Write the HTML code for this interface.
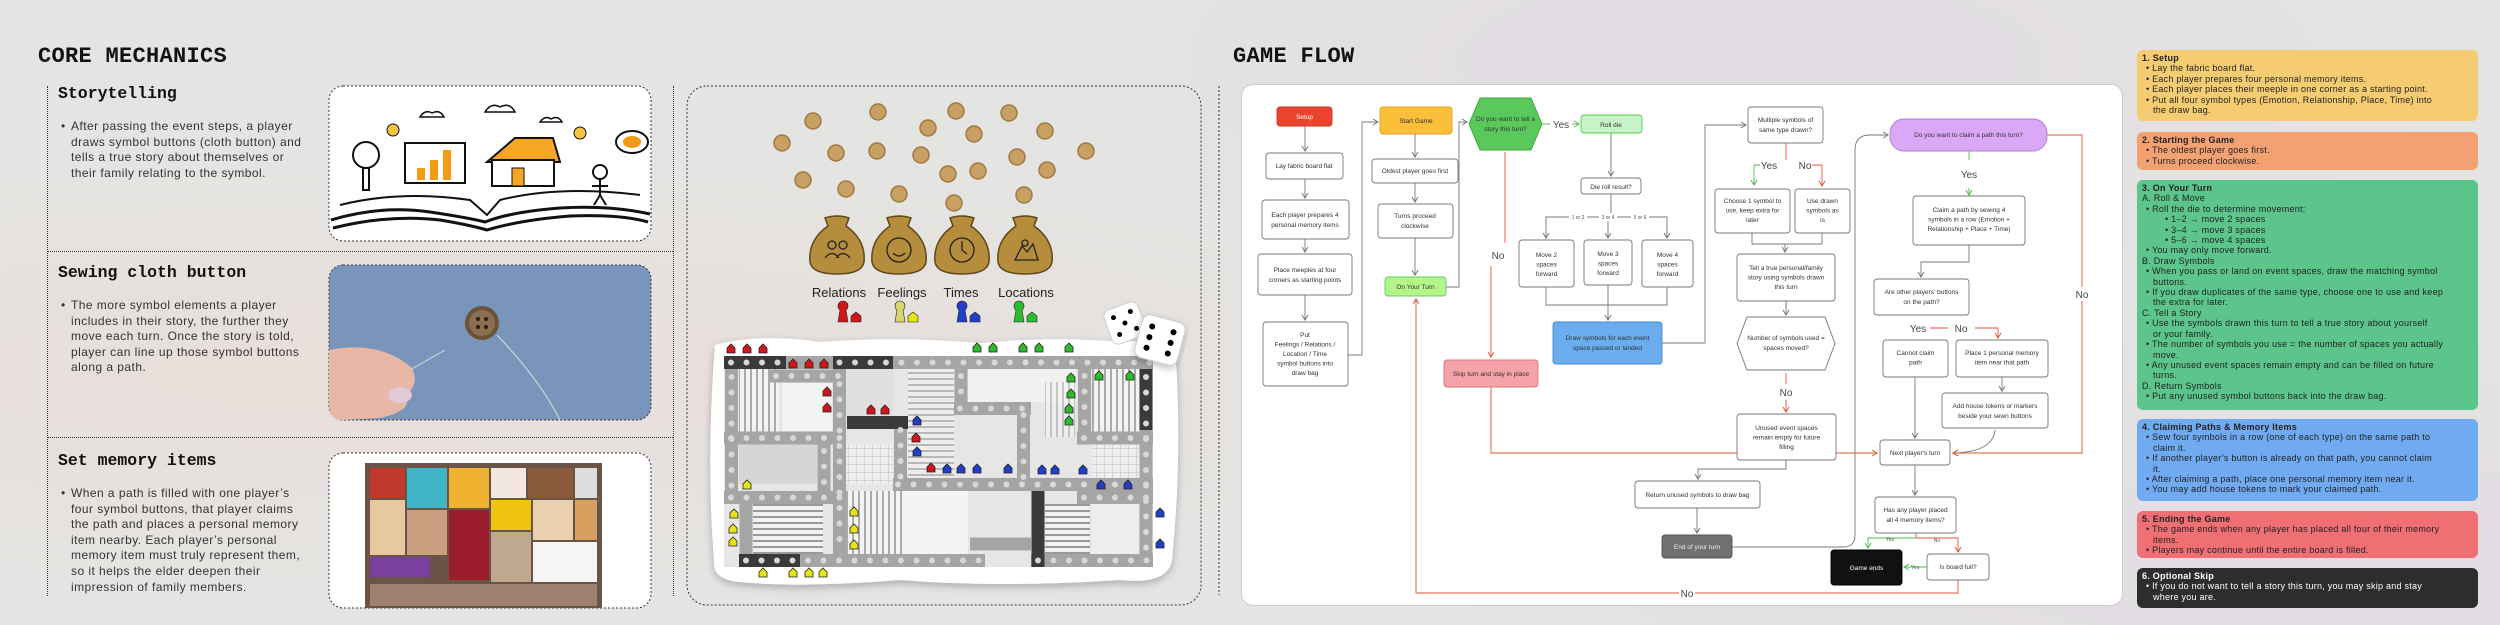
<!DOCTYPE html>
<html><head><meta charset="utf-8">
<style>
*{margin:0;padding:0;box-sizing:border-box}
body{width:2500px;height:625px;overflow:hidden;background:#e4e4e2;position:relative;font-family:"Liberation Sans",sans-serif}
.abs{position:absolute}
.title{font-family:"Liberation Mono",monospace;font-weight:bold;font-size:22px;color:#111;letter-spacing:0.3px}
.h{font-family:"Liberation Mono",monospace;font-weight:bold;font-size:16.5px;color:#111}
.bt{font-size:12px;line-height:15.6px;color:#333;letter-spacing:0.45px;white-space:nowrap}
.bt .b{position:absolute;left:-10px}
.rb{position:absolute;left:2137px;width:341px;border-radius:6px;padding:3px 5px;font-size:9px;line-height:10.4px;color:#222;letter-spacing:0.25px;white-space:nowrap}
.rb b{font-weight:bold}
.l1{padding-left:11px;text-indent:-7px}
.l2{padding-left:30px;text-indent:-7px}
</style></head><body>
<!-- background blotches -->
<div class="abs" style="left:0;top:0;width:2500px;height:625px;background:radial-gradient(ellipse at 15% 60%,rgba(240,210,200,0.35),transparent 40%),radial-gradient(ellipse at 70% 10%,rgba(220,200,230,0.3),transparent 30%),radial-gradient(ellipse at 95% 90%,rgba(220,200,230,0.3),transparent 30%)"></div>

<!-- LEFT PANEL -->
<div class="abs title" style="left:38px;top:44px">CORE MECHANICS</div>
<div class="abs" style="left:47px;top:86px;height:510px;border-left:1.5px dotted #333"></div>
<div class="abs" style="left:673px;top:86px;height:510px;border-left:1.5px dotted #333"></div>
<div class="abs" style="left:47px;top:251px;width:626px;border-top:1.5px dotted #333"></div>
<div class="abs" style="left:47px;top:437px;width:626px;border-top:1.5px dotted #333"></div>

<div class="abs h" style="left:58px;top:84px">Storytelling</div>
<div class="abs bt" style="left:71px;top:119px"><span class="b">•</span>After passing the event steps, a player<br>draws symbol buttons (cloth button) and<br>tells a true story about themselves or<br>their family relating to the symbol.</div>
<div class="abs h" style="left:58px;top:263px">Sewing cloth button</div>
<div class="abs bt" style="left:71px;top:298px"><span class="b">•</span>The more symbol elements a player<br>includes in their story, the further they<br>move each turn. Once the story is told,<br>player can line up those symbol buttons<br>along a path.</div>
<div class="abs h" style="left:58px;top:451px">Set memory items</div>
<div class="abs bt" style="left:71px;top:486px"><span class="b">•</span>When a path is filled with one player’s<br>four symbol buttons, that player claims<br>the path and places a personal memory<br>item nearby. Each player’s personal<br>memory item must truly represent them,<br>so it helps the elder deepen their<br>impression of family members.</div>

<!-- RIGHT PANEL -->
<div class="rb" style="top:50px;height:71px;background:#f5cc72"><b>1. Setup</b><div class="l1">• Lay the fabric board flat.</div><div class="l1">• Each player prepares four personal memory items.</div><div class="l1">• Each player places their meeple in one corner as a starting point.</div><div class="l1">• Put all four symbol types (Emotion, Relationship, Place, Time) into<br>the draw bag.</div></div>
<div class="rb" style="top:132px;height:38px;background:#f2a173"><b>2. Starting the Game</b><div class="l1">• The oldest player goes first.</div><div class="l1">• Turns proceed clockwise.</div></div>
<div class="rb" style="top:180px;height:230px;background:#5bc58b"><b>3. On Your Turn</b><div>A. Roll &amp; Move</div><div class="l1">• Roll the die to determine movement:</div><div class="l2">• 1–2 → move 2 spaces</div><div class="l2">• 3–4 → move 3 spaces</div><div class="l2">• 5–6 → move 4 spaces</div><div class="l1">• You may only move forward.</div><div>B. Draw Symbols</div><div class="l1">• When you pass or land on event spaces, draw the matching symbol<br>buttons.</div><div class="l1">• If you draw duplicates of the same type, choose one to use and keep<br>the extra for later.</div><div>C. Tell a Story</div><div class="l1">• Use the symbols drawn this turn to tell a true story about yourself<br>or your family.</div><div class="l1">• The number of symbols you use = the number of spaces you actually<br>move.</div><div class="l1">• Any unused event spaces remain empty and can be filled on future<br>turns.</div><div>D. Return Symbols</div><div class="l1">• Put any unused symbol buttons back into the draw bag.</div></div>
<div class="rb" style="top:419px;height:82px;background:#70aaf0"><b>4. Claiming Paths &amp; Memory Items</b><div class="l1">• Sew four symbols in a row (one of each type) on the same path to<br>claim it.</div><div class="l1">• If another player’s button is already on that path, you cannot claim<br>it.</div><div class="l1">• After claiming a path, place one personal memory item near it.</div><div class="l1">• You may add house tokens to mark your claimed path.</div></div>
<div class="rb" style="top:511px;height:47px;background:#ef6f73"><b>5. Ending the Game</b><div class="l1">• The game ends when any player has placed all four of their memory<br>items.</div><div class="l1">• Players may continue until the entire board is filled.</div></div>
<div class="rb" style="top:568px;height:40px;background:#2d2d2d;color:#fff"><b>6. Optional Skip</b><div class="l1">• If you do not want to tell a story this turn, you may skip and stay<br>where you are.</div></div>

<div class="abs title" style="left:1233px;top:44px">GAME FLOW</div>
<div class="abs" style="left:1241px;top:84px;width:882px;height:522px;background:#fff;border-radius:12px;border:1px solid #ccc"></div>

<svg class="abs" style="left:0;top:0" width="2500" height="625" viewBox="0 0 2500 625">
<defs>
<marker id="ag" markerWidth="8" markerHeight="8" refX="6" refY="4" orient="auto" markerUnits="userSpaceOnUse"><path d="M1 1 L6 4 L1 7" fill="none" stroke="#777" stroke-width="1"/></marker>
<marker id="ar" markerWidth="8" markerHeight="8" refX="6" refY="4" orient="auto" markerUnits="userSpaceOnUse"><path d="M1 1 L6 4 L1 7" fill="none" stroke="#e0553b" stroke-width="1"/></marker>
<marker id="agr" markerWidth="8" markerHeight="8" refX="6" refY="4" orient="auto" markerUnits="userSpaceOnUse"><path d="M1 1 L6 4 L1 7" fill="none" stroke="#4cbb4c" stroke-width="1"/></marker>
<filter id="sh" x="-10%" y="-10%" width="120%" height="130%"><feDropShadow dx="0" dy="3" stdDeviation="4" flood-color="#000" flood-opacity="0.25"/></filter>
<pattern id="st" width="6" height="6" patternUnits="userSpaceOnUse"><rect width="6" height="6" fill="#f1f1f1"/><rect width="6" height="2" fill="#9a9a9a"/></pattern>
<pattern id="sv" width="6" height="6" patternUnits="userSpaceOnUse"><rect width="6" height="6" fill="#f3f3f3"/><rect width="2" height="6" fill="#aaa"/></pattern>
<pattern id="gr" width="8" height="8" patternUnits="userSpaceOnUse"><rect width="8" height="8" fill="#eee"/><path d="M0 0H8M0 0V8" stroke="#bbb" stroke-width="1"/></pattern>
<g id="hs"><path d="M-4 0 L-4 -5 L0 -9 L4 -5 L4 0 Z" stroke="#222" stroke-width="0.8"/></g>
</defs>

<!-- Left images -->
<rect x="329" y="86" width="322" height="155" rx="14" fill="#fff" stroke="#333" stroke-dasharray="2 2"/>
<g fill="none" stroke="#111" stroke-width="3">
<path d="M331 220 Q380 205 430 212 Q470 218 485 222 Q510 212 560 208 Q610 205 650 214"/>
<path d="M333 228 Q390 214 440 220 Q470 225 487 230 Q520 220 570 216 Q620 214 648 222"/>
<path d="M340 205 Q400 190 470 200 L487 215 L500 200 Q560 185 640 195" stroke-width="2"/>
</g>
<rect x="405" y="143" width="60" height="40" fill="#fff" stroke="#111" stroke-width="2"/>
<rect x="417" y="168" width="8" height="12" fill="#f39c12"/><rect x="430" y="160" width="8" height="20" fill="#f39c12"/><rect x="443" y="150" width="8" height="30" fill="#f39c12"/>
<path d="M487 162 L515 138 L553 138 L560 162 Z" fill="#f5a623" stroke="#111" stroke-width="2"/>
<rect x="492" y="160" width="62" height="26" fill="#fff" stroke="#111" stroke-width="2"/>
<rect x="512" y="168" width="12" height="18" fill="#f5a623" stroke="#111"/>
<circle cx="366" cy="155" r="13" fill="#fff" stroke="#111" stroke-width="2"/><rect x="363" y="168" width="6" height="22" fill="#fff" stroke="#111" stroke-width="2"/>
<circle cx="393" cy="130" r="6" fill="#f5c542" stroke="#111"/><circle cx="580" cy="133" r="6" fill="#f5c542" stroke="#111"/>
<ellipse cx="632" cy="142" rx="16" ry="11" fill="#fff" stroke="#111" stroke-width="2"/><ellipse cx="632" cy="142" rx="9" ry="6" fill="#f39c12"/>
<circle cx="600" cy="172" r="7" fill="#fff" stroke="#111" stroke-width="2"/><path d="M600 179 V195 M592 186 H608 M600 195 L594 205 M600 195 L606 205" stroke="#111" stroke-width="2"/>
<path d="M420 117 q5 -8 12 -4 q8 -4 12 4 z M485 112 q6 -10 15 -5 q10 -5 15 5 z M540 122 q5 -7 11 -3 q7 -4 11 3 z" fill="#fff" stroke="#111" stroke-width="1.5"/>

<rect x="329" y="265" width="322" height="155" rx="14" fill="#6f8db7" stroke="#333" stroke-dasharray="2 2"/>
<rect x="329" y="265" width="322" height="155" rx="14" fill="url(#gr)" opacity="0.08"/>
<path d="M497 335 Q540 380 560 420" stroke="#ddd" fill="none" stroke-width="1"/>
<path d="M410 370 L445 350" stroke="#ccc" stroke-width="1.2"/>
<circle cx="482" cy="323" r="17" fill="#6b5335"/><circle cx="482" cy="323" r="13" fill="#8a7050"/>
<circle cx="478" cy="319" r="2" fill="#2a1d10"/><circle cx="486" cy="319" r="2" fill="#2a1d10"/><circle cx="478" cy="327" r="2" fill="#2a1d10"/><circle cx="486" cy="327" r="2" fill="#2a1d10"/>
<path d="M329 350 Q380 340 412 368 Q420 385 405 395 Q415 410 380 418 L343 420 Q329 420 329 405 Z" fill="#e8b7a5"/>
<ellipse cx="400" cy="395" rx="12" ry="8" fill="#e2c9d6"/>

<rect x="329" y="453" width="322" height="155" rx="14" fill="#fff" stroke="#333" stroke-dasharray="2 2"/>
<rect x="365" y="463" width="237" height="145" fill="#6a5448"/>
<g>
<rect x="370" y="468" width="35" height="30" fill="#c0392b"/><rect x="407" y="468" width="40" height="40" fill="#3fb5c8"/><rect x="449" y="468" width="40" height="40" fill="#f0b030"/><rect x="491" y="468" width="35" height="30" fill="#f2e8e0"/><rect x="528" y="468" width="45" height="30" fill="#8b5a3c"/><rect x="575" y="468" width="22" height="30" fill="#ddd"/>
<rect x="370" y="500" width="35" height="55" fill="#e8c8a0"/><rect x="407" y="510" width="40" height="45" fill="#c8a080"/><rect x="449" y="510" width="40" height="70" fill="#9b1c2a"/><rect x="491" y="500" width="40" height="30" fill="#f1c40f"/><rect x="533" y="500" width="40" height="40" fill="#e8d0b0"/><rect x="575" y="500" width="22" height="40" fill="#d8a060"/>
<rect x="370" y="557" width="60" height="20" fill="#7b3fa0"/><rect x="491" y="532" width="40" height="50" fill="#c0a890"/><rect x="533" y="542" width="64" height="40" fill="#f5f5f5"/>
<rect x="370" y="584" width="227" height="22" fill="#a08070"/>
</g>

<!-- MIDDLE PANEL -->
<rect x="687" y="86" width="514" height="519" rx="20" fill="none" stroke="#333" stroke-dasharray="2 2"/>
<line x1="1219" y1="86" x2="1219" y2="595" stroke="#333" stroke-dasharray="2 2"/>
<g fill="#c9a063" stroke="#a07a40" stroke-width="1.5">
<circle cx="813" cy="121" r="8"/><circle cx="878" cy="112" r="8"/><circle cx="956" cy="111" r="8"/><circle cx="1009" cy="113" r="8"/><circle cx="782" cy="143" r="8"/><circle cx="836" cy="153" r="8"/><circle cx="877" cy="151" r="8"/><circle cx="928" cy="128" r="8"/><circle cx="974" cy="134" r="8"/><circle cx="1045" cy="131" r="8"/><circle cx="1086" cy="151" r="8"/><circle cx="921" cy="155" r="8"/><circle cx="1017" cy="157" r="8"/><circle cx="1047" cy="170" r="8"/><circle cx="803" cy="180" r="8"/><circle cx="846" cy="189" r="8"/><circle cx="899" cy="194" r="8"/><circle cx="948" cy="174" r="8"/><circle cx="978" cy="171" r="8"/><circle cx="954" cy="203" r="8"/><circle cx="1024" cy="195" r="8"/>
</g>
<g fill="#b58d3d" stroke="#5e4718" stroke-width="1.5">
<path d="M825 218 Q837 214 849 218 L846 226 Q866 240 864 262 Q862 274 837 274 Q812 274 810 262 Q808 240 828 226 Z"/>
<path d="M887 218 Q899 214 911 218 L908 226 Q928 240 926 262 Q924 274 899 274 Q874 274 872 262 Q870 240 890 226 Z"/>
<path d="M950 218 Q962 214 974 218 L971 226 Q991 240 989 262 Q987 274 962 274 Q937 274 935 262 Q933 240 953 226 Z"/>
<path d="M1013 218 Q1025 214 1037 218 L1034 226 Q1054 240 1052 262 Q1050 274 1025 274 Q1000 274 998 262 Q996 240 1016 226 Z"/>
</g>
<g fill="none" stroke="#222" stroke-width="1.3">
<circle cx="832" cy="245" r="4"/><circle cx="843" cy="245" r="4"/><path d="M825 258 q7 -9 14 0 M836 258 q7 -9 14 0"/>
<circle cx="899" cy="250" r="12"/><path d="M893 253 q6 6 12 0"/>
<circle cx="962" cy="250" r="12"/><path d="M962 241 V250 L967 254"/>
<path d="M1015 260 L1022 246 L1027 252 L1033 244 L1038 260 Z"/><circle cx="1025" cy="243" r="3"/>
</g>
<g font-size="13" fill="#222" text-anchor="middle"><text x="839" y="297">Relations</text><text x="902" y="297">Feelings</text><text x="961" y="297">Times</text><text x="1026" y="297">Locations</text></g>
<g stroke="#222" stroke-width="0.6">
<path d="M838 322 L840 310 A5 5 0 1 1 846 310 L848 322 Z" fill="#d0161b"/><path d="M851 322 V316 L856 312 L861 316 V322Z" fill="#d0161b"/>
<path d="M895 322 L897 310 A5 5 0 1 1 903 310 L905 322 Z" fill="#d8d870"/><path d="M908 322 V316 L913 312 L918 316 V322Z" fill="#e5e515"/>
<path d="M957 322 L959 310 A5 5 0 1 1 965 310 L967 322 Z" fill="#1f3fc8"/><path d="M970 322 V316 L975 312 L980 316 V322Z" fill="#1f3fc8"/>
<path d="M1014 322 L1016 310 A5 5 0 1 1 1022 310 L1024 322 Z" fill="#2dbb2d"/><path d="M1027 322 V316 L1032 312 L1037 316 V322Z" fill="#2dbb2d"/>
</g>
<!-- board -->
<path d="M715 345 Q760 333 820 342 Q900 336 980 343 Q1060 336 1120 342 Q1170 338 1176 360 Q1182 460 1172 560 Q1168 585 1120 580 Q1000 588 900 580 Q800 588 740 582 Q712 580 714 560 Q706 460 715 345 Z" fill="#fff" filter="url(#sh)"/>
<rect x="724" y="356" width="429" height="211" fill="#e6e6e6"/>
<rect x="739" y="369" width="40" height="63" fill="url(#sv)"/>
<rect x="782" y="383" width="50" height="50" fill="#f3f3f3"/>
<rect x="846" y="369" width="47" height="48" fill="#e0e0e0"/>
<rect x="908" y="369" width="46" height="110" fill="url(#st)" opacity="0.6"/>
<rect x="846" y="444" width="47" height="40" fill="url(#gr)"/>
<rect x="739" y="444" width="78" height="40" fill="#d6d6d6"/>
<rect x="968" y="369" width="108" height="33" fill="#f1f1f1"/>
<rect x="1045" y="382" width="30" height="55" fill="url(#sv)" opacity="0.6"/>
<rect x="1092" y="369" width="47" height="63" fill="url(#sv)"/>
<rect x="1092" y="444" width="47" height="40" fill="url(#gr)"/>
<rect x="753" y="504" width="70" height="50" fill="url(#st)"/>
<rect x="846" y="491" width="60" height="63" fill="url(#sv)"/>
<rect x="906" y="491" width="62" height="63" fill="#f4f4f4"/>
<rect x="1045" y="504" width="45" height="50" fill="url(#st)"/>
<rect x="1092" y="504" width="47" height="50" fill="#eee"/>
<g fill="none" stroke="#a5a5a5" stroke-width="13">
<path d="M724 362.5H1153 M770 376H846 M724 438H846 M954 408.5H1031 M893 484.5H1153 M724 497.5H846 M1077 497.5H1153 M739 560.5H985 M1031 560.5H1153 M1077 438H1153 M970 544H1031"/>
<path d="M731.5 356V504 M839.5 369V560 M824 444V504 M900.5 417V491 M961 356V415 M1023.5 402V491 M1084.5 356V444 M1146 356V567 M746 491V560"/>
</g>
<g fill="none" stroke="#3a3a3a" stroke-width="13">
<path d="M724 362.5H786 M833 362.5H893 M847 422.5H908 M739 560.5H800 M1038 491V567 M1146 369V430"/>
</g>
<g fill="none" stroke="#d8d8d8" stroke-width="6" stroke-linecap="round" stroke-dasharray="0 15.5">
<path d="M731 362.5H1150 M776 376H846 M731 438H846 M960 408.5H1031 M898 484.5H1150 M731 497.5H846 M1084 497.5H1150 M746 560.5H985 M1038 560.5H1150 M1084 438H1150"/>
<path d="M731.5 377V497 M839.5 384V550 M824 451V497 M900.5 430V484 M961 376V405 M1023.5 415V484 M1084.5 376V438 M1146 377V560"/>
</g>
<g fill="#d0161b"><use href="#hs" x="731" y="353"/><use href="#hs" x="747" y="353"/><use href="#hs" x="763" y="353"/><use href="#hs" x="793" y="368"/><use href="#hs" x="809" y="368"/><use href="#hs" x="824" y="368"/><use href="#hs" x="827" y="396"/><use href="#hs" x="827" y="412"/><use href="#hs" x="871" y="414"/><use href="#hs" x="885" y="414"/><use href="#hs" x="916" y="442"/><use href="#hs" x="931" y="472"/></g>
<g fill="#1f3fc8"><use href="#hs" x="917" y="425"/><use href="#hs" x="917" y="456"/><use href="#hs" x="947" y="473"/><use href="#hs" x="961" y="473"/><use href="#hs" x="977" y="473"/><use href="#hs" x="1008" y="473"/><use href="#hs" x="1042" y="474"/><use href="#hs" x="1055" y="474"/><use href="#hs" x="1083" y="474"/><use href="#hs" x="1101" y="489"/><use href="#hs" x="1128" y="489"/><use href="#hs" x="1160" y="517"/><use href="#hs" x="1160" y="548"/></g>
<g fill="#2dbb2d"><use href="#hs" x="977" y="352"/><use href="#hs" x="993" y="352"/><use href="#hs" x="1023" y="352"/><use href="#hs" x="1039" y="352"/><use href="#hs" x="1069" y="352"/><use href="#hs" x="1071" y="382"/><use href="#hs" x="1071" y="398"/><use href="#hs" x="1069" y="413"/><use href="#hs" x="1069" y="425"/><use href="#hs" x="1099" y="380"/><use href="#hs" x="1130" y="380"/></g>
<g fill="#e5e515"><use href="#hs" x="747" y="489"/><use href="#hs" x="734" y="518"/><use href="#hs" x="733" y="533"/><use href="#hs" x="733" y="546"/><use href="#hs" x="854" y="516"/><use href="#hs" x="854" y="533"/><use href="#hs" x="854" y="549"/><use href="#hs" x="763" y="577"/><use href="#hs" x="793" y="577"/><use href="#hs" x="809" y="577"/><use href="#hs" x="823" y="577"/></g>
<!-- dice -->
<g transform="rotate(-20 1125 323)"><rect x="1107" y="305" width="36" height="36" rx="7" fill="#fff" stroke="#ccc"/><circle cx="1116" cy="314" r="2.5"/><circle cx="1125" cy="323" r="2.5"/><circle cx="1134" cy="332" r="2.5"/><circle cx="1134" cy="314" r="2.5"/><circle cx="1116" cy="332" r="2.5"/></g>
<g transform="rotate(15 1160 340)"><rect x="1138" y="318" width="44" height="44" rx="8" fill="#fff" stroke="#ccc" filter="url(#sh)"/><circle cx="1149" cy="329" r="3"/><circle cx="1149" cy="340" r="3"/><circle cx="1149" cy="351" r="3"/><circle cx="1171" cy="329" r="3"/><circle cx="1171" cy="340" r="3"/><circle cx="1171" cy="351" r="3"/></g>

<!-- FLOWCHART -->
<g fill="none" stroke="#777" stroke-width="0.9">
<path d="M1305 126V151" marker-end="url(#ag)"/><path d="M1305 179V198" marker-end="url(#ag)"/><path d="M1305 239V252" marker-end="url(#ag)"/><path d="M1305 295V320" marker-end="url(#ag)"/>
<path d="M1348 355H1362V122H1378" marker-end="url(#ag)"/>
<path d="M1415 134V157" marker-end="url(#ag)"/><path d="M1415 183V202" marker-end="url(#ag)"/><path d="M1415 238V275" marker-end="url(#ag)"/>
<path d="M1446 287H1459V122H1467" marker-end="url(#ag)"/>
<path d="M1611 133V176" marker-end="url(#ag)"/><path d="M1611 194V217M1546 238V217H1667V238M1608 217V238" /><path d="M1546 230V238" marker-end="url(#ag)"/><path d="M1608 230V238" marker-end="url(#ag)"/><path d="M1667 230V238" marker-end="url(#ag)"/>
<path d="M1546 287V305H1667V287M1608 285V320" /><path d="M1608 312V320" marker-end="url(#ag)"/>
<path d="M1662 343H1705V125H1746" marker-end="url(#ag)"/>
<path d="M1752 233V244H1822V233M1785 244V252" marker-end="url(#ag)"/>
<path d="M1786 301V315" marker-end="url(#ag)"/>
<path d="M1786 460V469H1698V479" marker-end="url(#ag)"/>
<path d="M1697 508V533" marker-end="url(#ag)"/>
<path d="M1732 547H1843Q1855 547 1855 535V150Q1855 135 1870 135H1888" marker-end="url(#ag)"/>
<path d="M1969 245V262H1921V277" marker-end="url(#ag)"/>
<path d="M2002 377V391" marker-end="url(#ag)"/>
<path d="M1915 377V438" marker-end="url(#ag)"/>
<path d="M1995 430Q1993 452 1953 453" marker-end="url(#ag)"/>
<path d="M1915 465V495" marker-end="url(#ag)"/>
</g>
<g fill="none" stroke="#e0553b" stroke-width="0.9">
<path d="M1505 152V243"/><path d="M1491 266V357" marker-end="url(#ar)"/>
<path d="M1491 387V453H1877" marker-end="url(#ar)"/>
<path d="M1786 143V160"/><path d="M1812 165H1822V186" marker-end="url(#ar)"/>
<path d="M1786 373V384"/><path d="M1786 400V412" marker-end="url(#ar)"/>
<path d="M2047 135H2082V453H1953" marker-end="url(#ar)"/>
<path d="M1930 328H1948"/><path d="M1975 328H1998V338" marker-end="url(#ar)"/>
<path d="M1916 533V538H1958V552" marker-end="url(#ar)"/>
<path d="M1958 580V593H1416V299" marker-end="url(#ar)"/>
</g>
<g fill="none" stroke="#4cbb4c" stroke-width="0.9">
<path d="M1542 124H1550"/><path d="M1572 124H1579" marker-end="url(#agr)"/>
<path d="M1760 165H1754V185" marker-end="url(#agr)"/>
<path d="M1969 151V160"/><path d="M1969 188V195" marker-end="url(#agr)"/>
<path d="M1916 538H1868V548" marker-end="url(#agr)"/>
<path d="M1927 567H1904" marker-end="url(#agr)"/>
</g>
<g stroke-width="0.9">
<rect x="1277" y="107" width="55" height="19" rx="3" fill="#e8452c" stroke="#c33"/>
<rect x="1266" y="153" width="77" height="26" rx="3" fill="#fff" stroke="#777"/>
<rect x="1262" y="200" width="87" height="39" rx="3" fill="#fff" stroke="#777"/>
<rect x="1258" y="254" width="94" height="41" rx="3" fill="#fff" stroke="#777"/>
<rect x="1263" y="322" width="85" height="64" rx="3" fill="#fff" stroke="#777"/>
<rect x="1380" y="107" width="72" height="27" rx="3" fill="#fbbf3c" stroke="#e0a020"/>
<rect x="1372" y="159" width="86" height="24" rx="3" fill="#fff" stroke="#777"/>
<rect x="1378" y="204" width="75" height="34" rx="3" fill="#fff" stroke="#777"/>
<rect x="1385" y="277" width="61" height="19" rx="3" fill="#b4f58a" stroke="#6c6"/>
<path d="M1480 98H1531L1542 124L1531 150H1480L1469 124Z" fill="#5ac85a" stroke="#3a3"/>
<rect x="1581" y="115" width="61" height="18" rx="3" fill="#c8f5c8" stroke="#5c5"/>
<rect x="1581" y="178" width="60" height="16" rx="3" fill="#fff" stroke="#777"/>
<rect x="1519" y="240" width="55" height="47" rx="3" fill="#fff" stroke="#777"/>
<rect x="1584" y="240" width="48" height="45" rx="3" fill="#fff" stroke="#777"/>
<rect x="1642" y="240" width="51" height="47" rx="3" fill="#fff" stroke="#777"/>
<rect x="1553" y="322" width="109" height="42" rx="3" fill="#6aaef0" stroke="#48c"/>
<rect x="1444" y="360" width="94" height="27" rx="3" fill="#f5a3a8" stroke="#d77"/>
<rect x="1748" y="107" width="75" height="36" rx="3" fill="#fff" stroke="#777"/>
<rect x="1715" y="189" width="75" height="44" rx="3" fill="#fff" stroke="#777"/>
<rect x="1795" y="189" width="55" height="44" rx="3" fill="#fff" stroke="#777"/>
<rect x="1737" y="254" width="98" height="47" rx="3" fill="#fff" stroke="#777"/>
<path d="M1747 317H1825L1835 343.5L1825 370H1747L1737 343.5Z" fill="#fff" stroke="#777"/>
<rect x="1737" y="414" width="99" height="46" rx="3" fill="#fff" stroke="#777"/>
<rect x="1635" y="481" width="125" height="27" rx="3" fill="#fff" stroke="#777"/>
<rect x="1662" y="535" width="70" height="23" rx="3" fill="#707070" stroke="#555"/>
<rect x="1890" y="119" width="157" height="32" rx="14" fill="#dba8f7" stroke="#b07ad0"/>
<rect x="1913" y="196" width="112" height="49" rx="3" fill="#fff" stroke="#777"/>
<rect x="1874" y="279" width="95" height="36" rx="3" fill="#fff" stroke="#777"/>
<rect x="1883" y="340" width="65" height="37" rx="3" fill="#fff" stroke="#777"/>
<rect x="1956" y="340" width="92" height="37" rx="3" fill="#fff" stroke="#777"/>
<rect x="1942" y="393" width="106" height="35" rx="3" fill="#fff" stroke="#777"/>
<rect x="1880" y="440" width="70" height="25" rx="3" fill="#fff" stroke="#777"/>
<rect x="1875" y="497" width="81" height="36" rx="3" fill="#fff" stroke="#777"/>
<rect x="1831" y="550" width="71" height="35" rx="3" fill="#111" stroke="#000"/>
<rect x="1927" y="554" width="62" height="26" rx="3" fill="#fff" stroke="#777"/>
</g>
<g font-size="6.5" fill="#333" text-anchor="middle">
<text x="1304.5" y="119" fill="#fff">Setup</text>
<text x="1304" y="168">Lay fabric board flat</text>
<text x="1305" y="217">Each player prepares 4</text><text x="1305" y="227">personal memory items</text>
<text x="1305" y="272">Place meeples at four</text><text x="1305" y="282">corners as starting points</text>
<text x="1305" y="337">Put</text><text x="1305" y="346.5">Feelings / Relations /</text><text x="1305" y="356">Location / Time</text><text x="1305" y="365.5">symbol buttons into</text><text x="1305" y="375">draw bag</text>
<text x="1416" y="123">Start Game</text>
<text x="1415" y="173">Oldest player goes first</text>
<text x="1415" y="218">Turns proceed</text><text x="1415" y="228">clockwise</text>
<text x="1415.5" y="289">On Your Turn</text>
<text x="1505.5" y="121">Do you want to tell a</text><text x="1505.5" y="131">story this turn?</text>
<text x="1611" y="127">Roll die</text>
<text x="1611" y="189">Die roll result?</text>
<text x="1546.5" y="257">Move 2</text><text x="1546.5" y="266.5">spaces</text><text x="1546.5" y="276">forward</text>
<text x="1608" y="256">Move 3</text><text x="1608" y="265.5">spaces</text><text x="1608" y="275">forward</text>
<text x="1667.5" y="257">Move 4</text><text x="1667.5" y="266.5">spaces</text><text x="1667.5" y="276">forward</text>
<text x="1607.5" y="340">Draw symbols for each event</text><text x="1607.5" y="350">space passed or landed</text>
<text x="1491" y="376">Skip turn and stay in place</text>
<text x="1785.5" y="122">Multiple symbols of</text><text x="1785.5" y="132">same type drawn?</text>
<text x="1752.5" y="203">Choose 1 symbol to</text><text x="1752.5" y="212.5">use, keep extra for</text><text x="1752.5" y="222">later</text>
<text x="1822.5" y="203">Use drawn</text><text x="1822.5" y="212.5">symbols as</text><text x="1822.5" y="222">is</text>
<text x="1786" y="270">Tell a true personal/family</text><text x="1786" y="279.5">story using symbols drawn</text><text x="1786" y="289">this turn</text>
<text x="1786" y="340">Number of symbols used =</text><text x="1786" y="350">spaces moved?</text>
<text x="1786.5" y="430">Unused event spaces</text><text x="1786.5" y="439.5">remain empty for future</text><text x="1786.5" y="449">filling</text>
<text x="1697.5" y="497">Return unused symbols to draw bag</text>
<text x="1697" y="549" fill="#eee">End of your turn</text>
<text x="1968.5" y="137">Do you want to claim a path this turn?</text>
<text x="1969" y="212">Claim a path by sewing 4</text><text x="1969" y="221.5">symbols in a row (Emotion +</text><text x="1969" y="231">Relationship + Place + Time)</text>
<text x="1921.5" y="294">Are other players' buttons</text><text x="1921.5" y="304">on the path?</text>
<text x="1915.5" y="355">Cannot claim</text><text x="1915.5" y="364.5">path</text>
<text x="2002" y="355">Place 1 personal memory</text><text x="2002" y="364.5">item near that path</text>
<text x="1995" y="408">Add house tokens or markers</text><text x="1995" y="418">beside your sewn buttons</text>
<text x="1915" y="455">Next player's turn</text>
<text x="1915.5" y="512">Has any player placed</text><text x="1915.5" y="522">all 4 memory items?</text>
<text x="1866.5" y="570" fill="#fff">Game ends</text>
<text x="1958" y="569">Is board full?</text>
</g>
<g font-size="5" fill="#555" text-anchor="middle">
<rect x="1569" y="213" width="18" height="8" fill="#fff"/><text x="1578" y="219">1 or 2</text>
<rect x="1599" y="213" width="18" height="8" fill="#fff"/><text x="1608" y="219">3 or 4</text>
<rect x="1631" y="213" width="18" height="8" fill="#fff"/><text x="1640" y="219">5 or 6</text>
<text x="1890" y="541">Yes</text><text x="1937" y="542">No</text><text x="1915" y="569">Yes</text>
</g>
<g font-size="10" fill="#444" text-anchor="middle">
<text x="1561" y="128">Yes</text>
<text x="1498" y="259">No</text>
<text x="1769" y="169">Yes</text><text x="1805" y="169">No</text>
<text x="1786" y="396">No</text>
<text x="1969" y="178">Yes</text>
<text x="1918" y="332">Yes</text><text x="1961" y="332">No</text>
<rect x="2075" y="287" width="14" height="14" fill="#fff"/><text x="2082" y="298">No</text>
<rect x="1679" y="587" width="16" height="12" fill="#fff"/><text x="1687" y="597">No</text>
</g>
</svg>
</body></html>
